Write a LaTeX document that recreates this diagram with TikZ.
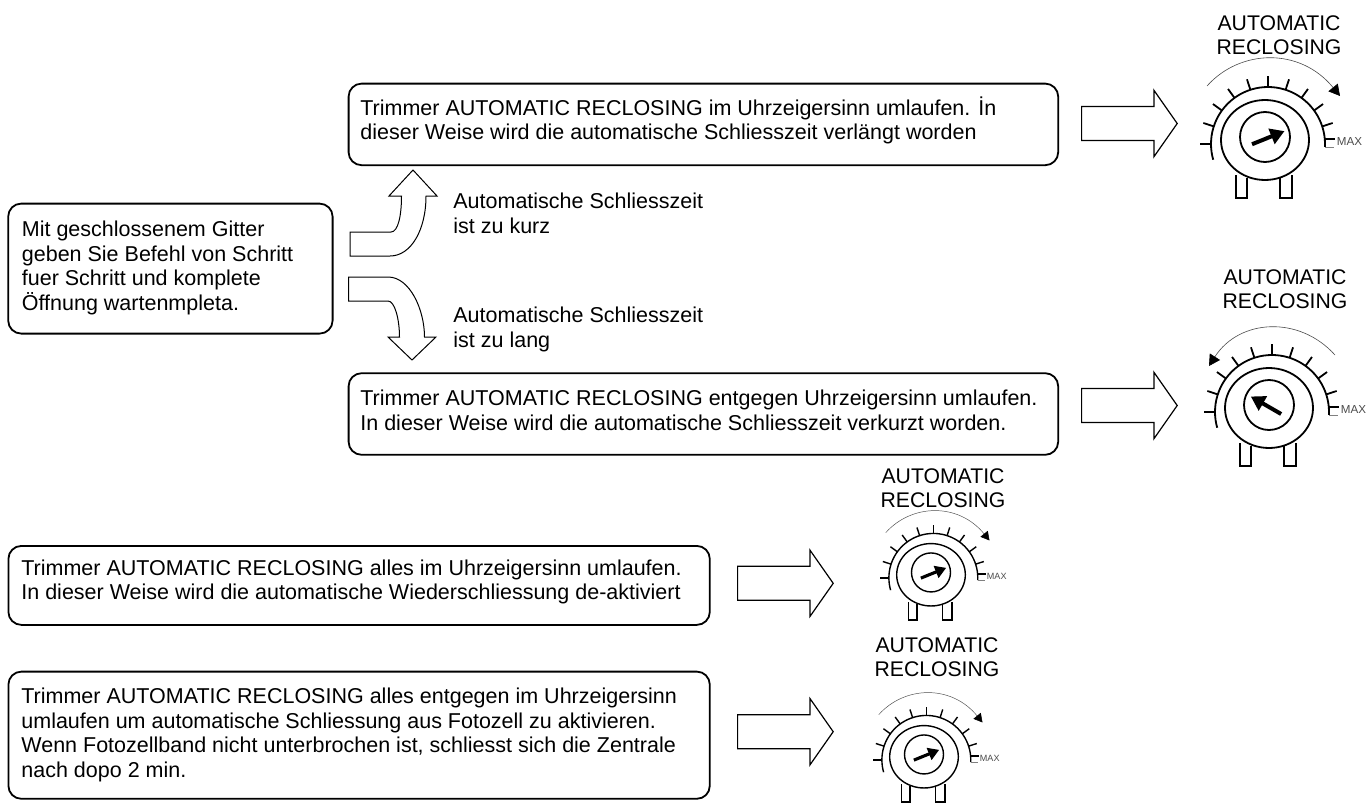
\documentclass[tikz,border=0pt]{standalone}
\usepackage{fontspec}
\setmainfont{Liberation Sans}
\usetikzlibrary{arrows.meta,shapes.arrows,calc}

\tikzset{
  infobox/.style={draw,line width=0.9pt,rounded corners=6.5pt,anchor=north west,inner sep=0pt},
  infotext/.style={anchor=west,align=left,font=\fontsize{10.75}{12.2}\selectfont,inner sep=0pt},
  blockarrow/.style={draw,single arrow,line width=0.6pt,minimum width=32.6pt,minimum height=47.8pt,
    single arrow head extend=8.1pt,single arrow tip angle=110,inner xsep=0pt,inner ysep=8.2pt,anchor=tail},
  trimmerlabel/.style={align=center,font=\fontsize{10.6}{12.2}\selectfont,inner sep=0pt}
}

% name, x, y, scale, needle angle, path of the turning arrow
\newcommand{\trimmerdial}[6]{
  \begin{scope}[shift={(#2,#3)},scale=#4,line width=#4*0.9pt]
    \draw (0,-2) circle (25);
    \draw (0,1) circle [x radius=44,y radius=40];
    \draw plot[domain=-196:3,samples=50] ({3+57*cos(\x)},{5+57*sin(\x)});
    \foreach \a in {18,36,...,180} {
      \draw ($(3,5)+(-\a:57)$) -- ($(3,5)+(-\a:68)$);
    }
    \draw (60,0) -- (70,0);
    \draw[line width=#4*0.3pt,gray] (60,8) -- (69,8);
    % legs
    \draw (-29,36) -- (-29,59) -- (-18,59) -- (-18,39);
    \draw (15,39) -- (15,59) -- (27,59) -- (27,36);
    % needle
    \draw[line width=#4*2pt,-{Triangle[length=7pt,width=8pt,scale=#4]}] (#5+180:14) -- (#5:21);
    \draw[line width=#4*0.3pt,black!70,-{Triangle[length=5.5pt,width=6pt,scale=#4,black]}] #6;
    \node[font=\fontsize{5.8}{7}\selectfont,text=black!70,anchor=west,inner sep=0pt,transform shape] (#1max) at (71,3) {MAX};
  \end{scope}
}

\begin{document}
\begin{tikzpicture}[x=0.5pt,y=-0.5pt]
  \clip (0,0) rectangle (1372,803);
  \path[fill=white] (0,0) rectangle (1372,803);

  % boxes
  \node[infobox,minimum width=354.8pt,minimum height=40.8pt] (longerbox) at (347.7,82.7) {};
  \node[infobox,minimum width=162.2pt,minimum height=65pt] (startbox) at (7.3,202.7) {};
  \node[infobox,minimum width=354.8pt,minimum height=40.8pt] (shorterbox) at (347.7,372.3) {};
  \node[infobox,minimum width=350.7pt,minimum height=39.5pt] (offbox) at (7.5,545) {};
  \node[infobox,minimum width=350.7pt,minimum height=63.6pt] (photobox) at (7.5,670.7) {};

  % texts
  \node[infotext] (starttext) at (21.5,268) {Mit geschlossenem Gitter\\geben Sie Befehl von Schritt\\fuer Schritt und komplete\\Öffnung wartenmpleta.};
  \node[infotext] (longertext) at (360,120.7) {Trimmer AUTOMATIC RECLOSING im Uhrzeigersinn umlaufen. İn\\dieser Weise wird die automatische Schliesszeit verlängt worden};
  \node[infotext] (shortertext) at (360,410.5) {Trimmer AUTOMATIC RECLOSING entgegen Uhrzeigersinn umlaufen.\\In dieser Weise wird die automatische Schliesszeit verkurzt worden.};
  \node[infotext] (offtext) at (21,582) {Trimmer AUTOMATIC RECLOSING alles im Uhrzeigersinn umlaufen.\\In dieser Weise wird die automatische Wiederschliessung de-aktiviert};
  \node[infotext] (phototext) at (21,735) {Trimmer AUTOMATIC RECLOSING alles entgegen im Uhrzeigersinn\\umlaufen um automatische Schliessung aus Fotozell zu aktivieren.\\Wenn Fotozellband nicht unterbrochen ist, schliesst sich die Zentrale\\nach dopo 2 min.};
  \node[infotext] (kurztext) at (453,213.5) {Automatische Schliesszeit\\ist zu kurz};
  \node[infotext] (langtext) at (453,329.5) {Automatische Schliesszeit\\ist zu lang};

  % block arrows
  \node[blockarrow] (arrowa) at (1081,123.5) {};
  \node[blockarrow] (arrowb) at (1081,405.5) {};
  \node[blockarrow] (arrowc) at (737,583.3) {};
  \node[blockarrow] (arrowd) at (737,731.7) {};

  % curved arrows
  \draw[line width=0.5pt] (350,256) -- (390,256) .. controls (411,256) and (426,230) .. (426,196) -- (437,196) -- (413,170) -- (389,196) -- (401.5,196) .. controls (401.5,216) and (398,232) .. (391,232) -- (350,232) -- cycle;
  \draw[line width=0.5pt] (348.5,277) -- (388,277) .. controls (410,277) and (424.5,310) .. (424.5,337) -- (436,337) -- (412,360) -- (388,337) -- (399.5,337) .. controls (399.5,320) and (395,301) .. (388,301) -- (348.5,301) -- cycle;

  % dials
  \trimmerdial{dialone}{1265}{139}{1}{-22}{(-58,-53) .. controls (-25,-90) and (35,-92) .. (75,-43)}
  \trimmerdial{dialtwo}{1269}{407}{1}{-150}{(66,-52) .. controls (30,-92) and (-30,-88) .. (-60,-41)}
  \trimmerdial{dialthree}{931}{574}{0.78}{-22}{(-58,-53) .. controls (-25,-90) and (35,-92) .. (75,-43)}
  \trimmerdial{dialfour}{924}{756}{0.78}{-22}{(-58,-53) .. controls (-25,-90) and (35,-92) .. (75,-43)}

  % dial labels
  \node[trimmerlabel] (labelone) at (1279,35) {AUTOMATIC\\RECLOSING};
  \node[trimmerlabel] (labeltwo) at (1285,289) {AUTOMATIC\\RECLOSING};
  \node[trimmerlabel] (labelthree) at (943,488) {AUTOMATIC\\RECLOSING};
  \node[trimmerlabel] (labelfour) at (937,657) {AUTOMATIC\\RECLOSING};
\end{tikzpicture}
\end{document}
